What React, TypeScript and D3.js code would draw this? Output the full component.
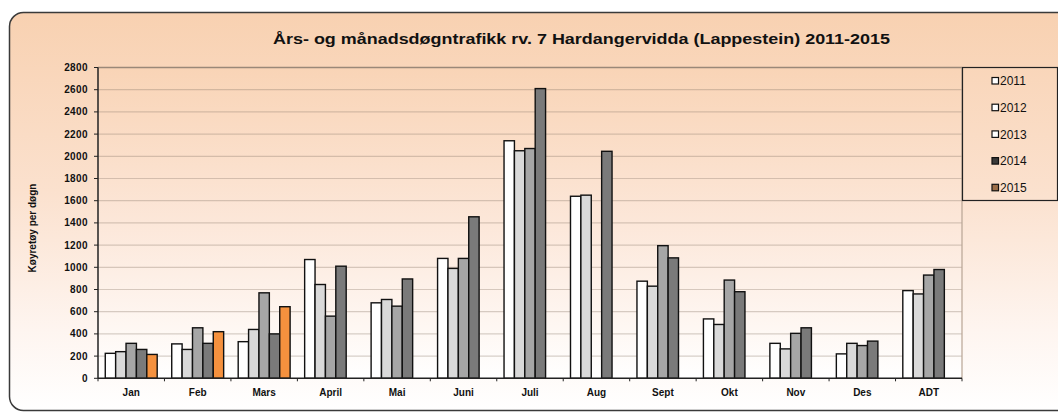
import React from 'react';
import * as d3 from 'd3';

// monthly daily traffic, rv. 7 Hardangervidda (Lappestein)
const categories = ['Jan', 'Feb', 'Mars', 'April', 'Mai', 'Juni', 'Juli', 'Aug', 'Sept', 'Okt', 'Nov', 'Des', 'ADT'];
const years = ['2011', '2012', '2013', '2014', '2015'];

const v2011 = [225, 310, 330, 1070, 680, 1080, 2140, 1640, 875, 535, 315, 220, 790];
const v2012 = [240, 260, 440, 845, 710, 990, 2050, 1650, 830, 485, 265, 315, 760];
const v2013 = [315, 455, 770, 560, 650, 1080, 2070, null, 1195, 885, 405, 295, 930];
const v2014 = [260, 315, 400, 1010, 895, 1455, 2610, 2045, 1085, 780, 455, 335, 980];
const v2015 = [215, 420, 645, null, null, null, null, null, null, null, null, null, null];

const yTicks = [0, 200, 400, 600, 800, 1000, 1200, 1400, 1600, 1800, 2000, 2200, 2400, 2600, 2800];

const seriesValues = [v2011, v2012, v2013, v2014, v2015];
const colors = ['#ffffff', '#d9d9d9', '#a6a6a6', '#7a7a7a', '#f5913e'];
const legendColors = ['#ffffff', '#ffffff', '#ffffff', '#3a3a3a', '#9c6e48'];

const font = '"Liberation Sans", Arial, sans-serif';

const App = () => {
  const width = 1058;
  const height = 412;
  const plot = { left: 98, right: 962, top: 67.5, bottom: 378.3 };

  const x = d3.scaleBand<string>()
    .domain(categories)
    .range([plot.left, plot.right])
    .padding(0);

  const xs = d3.scaleBand<string>()
    .domain(years)
    .range([0, x.bandwidth()])
    .paddingInner(0)
    .paddingOuter(0.7);

  const y = d3.scaleLinear()
    .domain([0, 2800])
    .range([plot.bottom, plot.top]);

  const bars: { cat: string; year: string; value: number; color: string }[] = [];
  seriesValues.forEach((vals, si) => {
    vals.forEach((v, ci) => {
      if (v != null) bars.push({ cat: categories[ci], year: years[si], value: v, color: colors[si] });
    });
  });

  return (
    <svg width={width} height={height} style={{ position: 'absolute', left: 0, top: 0, background: '#fff' }}>
      <defs>
        <linearGradient id="bgGrad" x1="0" y1="0" x2="0" y2="1">
          <stop offset="0%" stopColor="#f8d1b1" />
          <stop offset="45%" stopColor="#fbe1ce" />
          <stop offset="80%" stopColor="#fef5f0" />
          <stop offset="100%" stopColor="#ffffff" />
        </linearGradient>
        <linearGradient id="plotGrad" x1="0" y1="0" x2="0" y2="1">
          <stop offset="0%" stopColor="#f9d4b6" />
          <stop offset="50%" stopColor="#fce7d9" />
          <stop offset="100%" stopColor="#ffffff" />
        </linearGradient>
      </defs>

      {/* chart frame */}
      <rect x={9.5} y={12.5} width={1070} height={398} rx={14} fill="url(#bgGrad)" stroke="#3a3a3a" strokeWidth={1.5} />

      <text x={273} y={44} textLength={617} lengthAdjust="spacingAndGlyphs" fontFamily={font} fontWeight="bold" fontSize={15} fill="#111">
        Års- og månadsdøgntrafikk rv. 7 Hardangervidda (Lappestein) 2011-2015
      </text>

      {/* plot area */}
      <rect x={plot.left} y={plot.top} width={plot.right - plot.left} height={plot.bottom - plot.top} fill="url(#plotGrad)" />
      {yTicks.slice(1).map(t => (
        <line key={t} x1={plot.left} x2={plot.right} y1={y(t)} y2={y(t)} stroke="#8c7a6c" strokeOpacity={0.35} strokeWidth={1.2} />
      ))}
      <line x1={plot.left} x2={plot.right} y1={plot.top} y2={plot.top} stroke="#9a8878" strokeWidth={1.5} />
      <line x1={plot.right} x2={plot.right} y1={plot.top} y2={plot.bottom} stroke="#b8a494" strokeWidth={1.2} />

      {bars.map(b => (
        <rect
          key={b.cat + b.year}
          x={(x(b.cat) ?? 0) + (xs(b.year) ?? 0)}
          y={y(b.value)}
          width={xs.bandwidth()}
          height={y(0) - y(b.value)}
          fill={b.color}
          stroke="#111"
          strokeWidth={1.4}
        />
      ))}

      {/* y axis */}
      <line x1={plot.left} x2={plot.left} y1={plot.top} y2={plot.bottom} stroke="#222" strokeWidth={1.5} />
      {yTicks.map(t => (
        <g key={t} transform={`translate(0,${y(t)})`}>
          <line x1={plot.left - 4} x2={plot.left} stroke="#222" strokeWidth={1} />
          <text x={plot.left - 10} dy="0.35em" textAnchor="end" letterSpacing={0.4} fontFamily={font} fontWeight="bold" fontSize={10} fill="#111">
            {t}
          </text>
        </g>
      ))}
      <text transform="translate(36,228) rotate(-90)" textAnchor="middle" fontFamily={font} fontWeight="bold" fontSize={10} fill="#111">
        Køyretøy per døgn
      </text>

      {/* x axis */}
      <line x1={plot.left} x2={plot.right} y1={plot.bottom} y2={plot.bottom} stroke="#222" strokeWidth={1.5} />
      {categories.map(c => (
        <line key={'t' + c} x1={x(c)} x2={x(c)} y1={plot.bottom} y2={plot.bottom + 3} stroke="#222" strokeWidth={1} />
      ))}
      <line x1={plot.right} x2={plot.right} y1={plot.bottom} y2={plot.bottom + 3} stroke="#222" strokeWidth={1} />
      {categories.map(c => (
        <text key={c} x={(x(c) ?? 0) + x.bandwidth() / 2} y={396} textAnchor="middle" fontFamily={font} fontWeight="bold" fontSize={10} fill="#111">
          {c}
        </text>
      ))}

      {/* legend */}
      <rect x={962.5} y={67.5} width={95} height={133} fill="none" stroke="#222" strokeWidth={1.2} />
      {years.map((yr, i) => (
        <g key={yr} transform={`translate(992,${81 + i * 26.7})`}>
          <rect x={0} y={-3.5} width={6.5} height={6.5} fill={legendColors[i]} stroke="#111" strokeWidth={1.2} />
          <text x={8} dy="0.36em" fontFamily={font} fontSize={12} fill="#111">{yr}</text>
        </g>
      ))}
    </svg>
  );
};

export default App;
